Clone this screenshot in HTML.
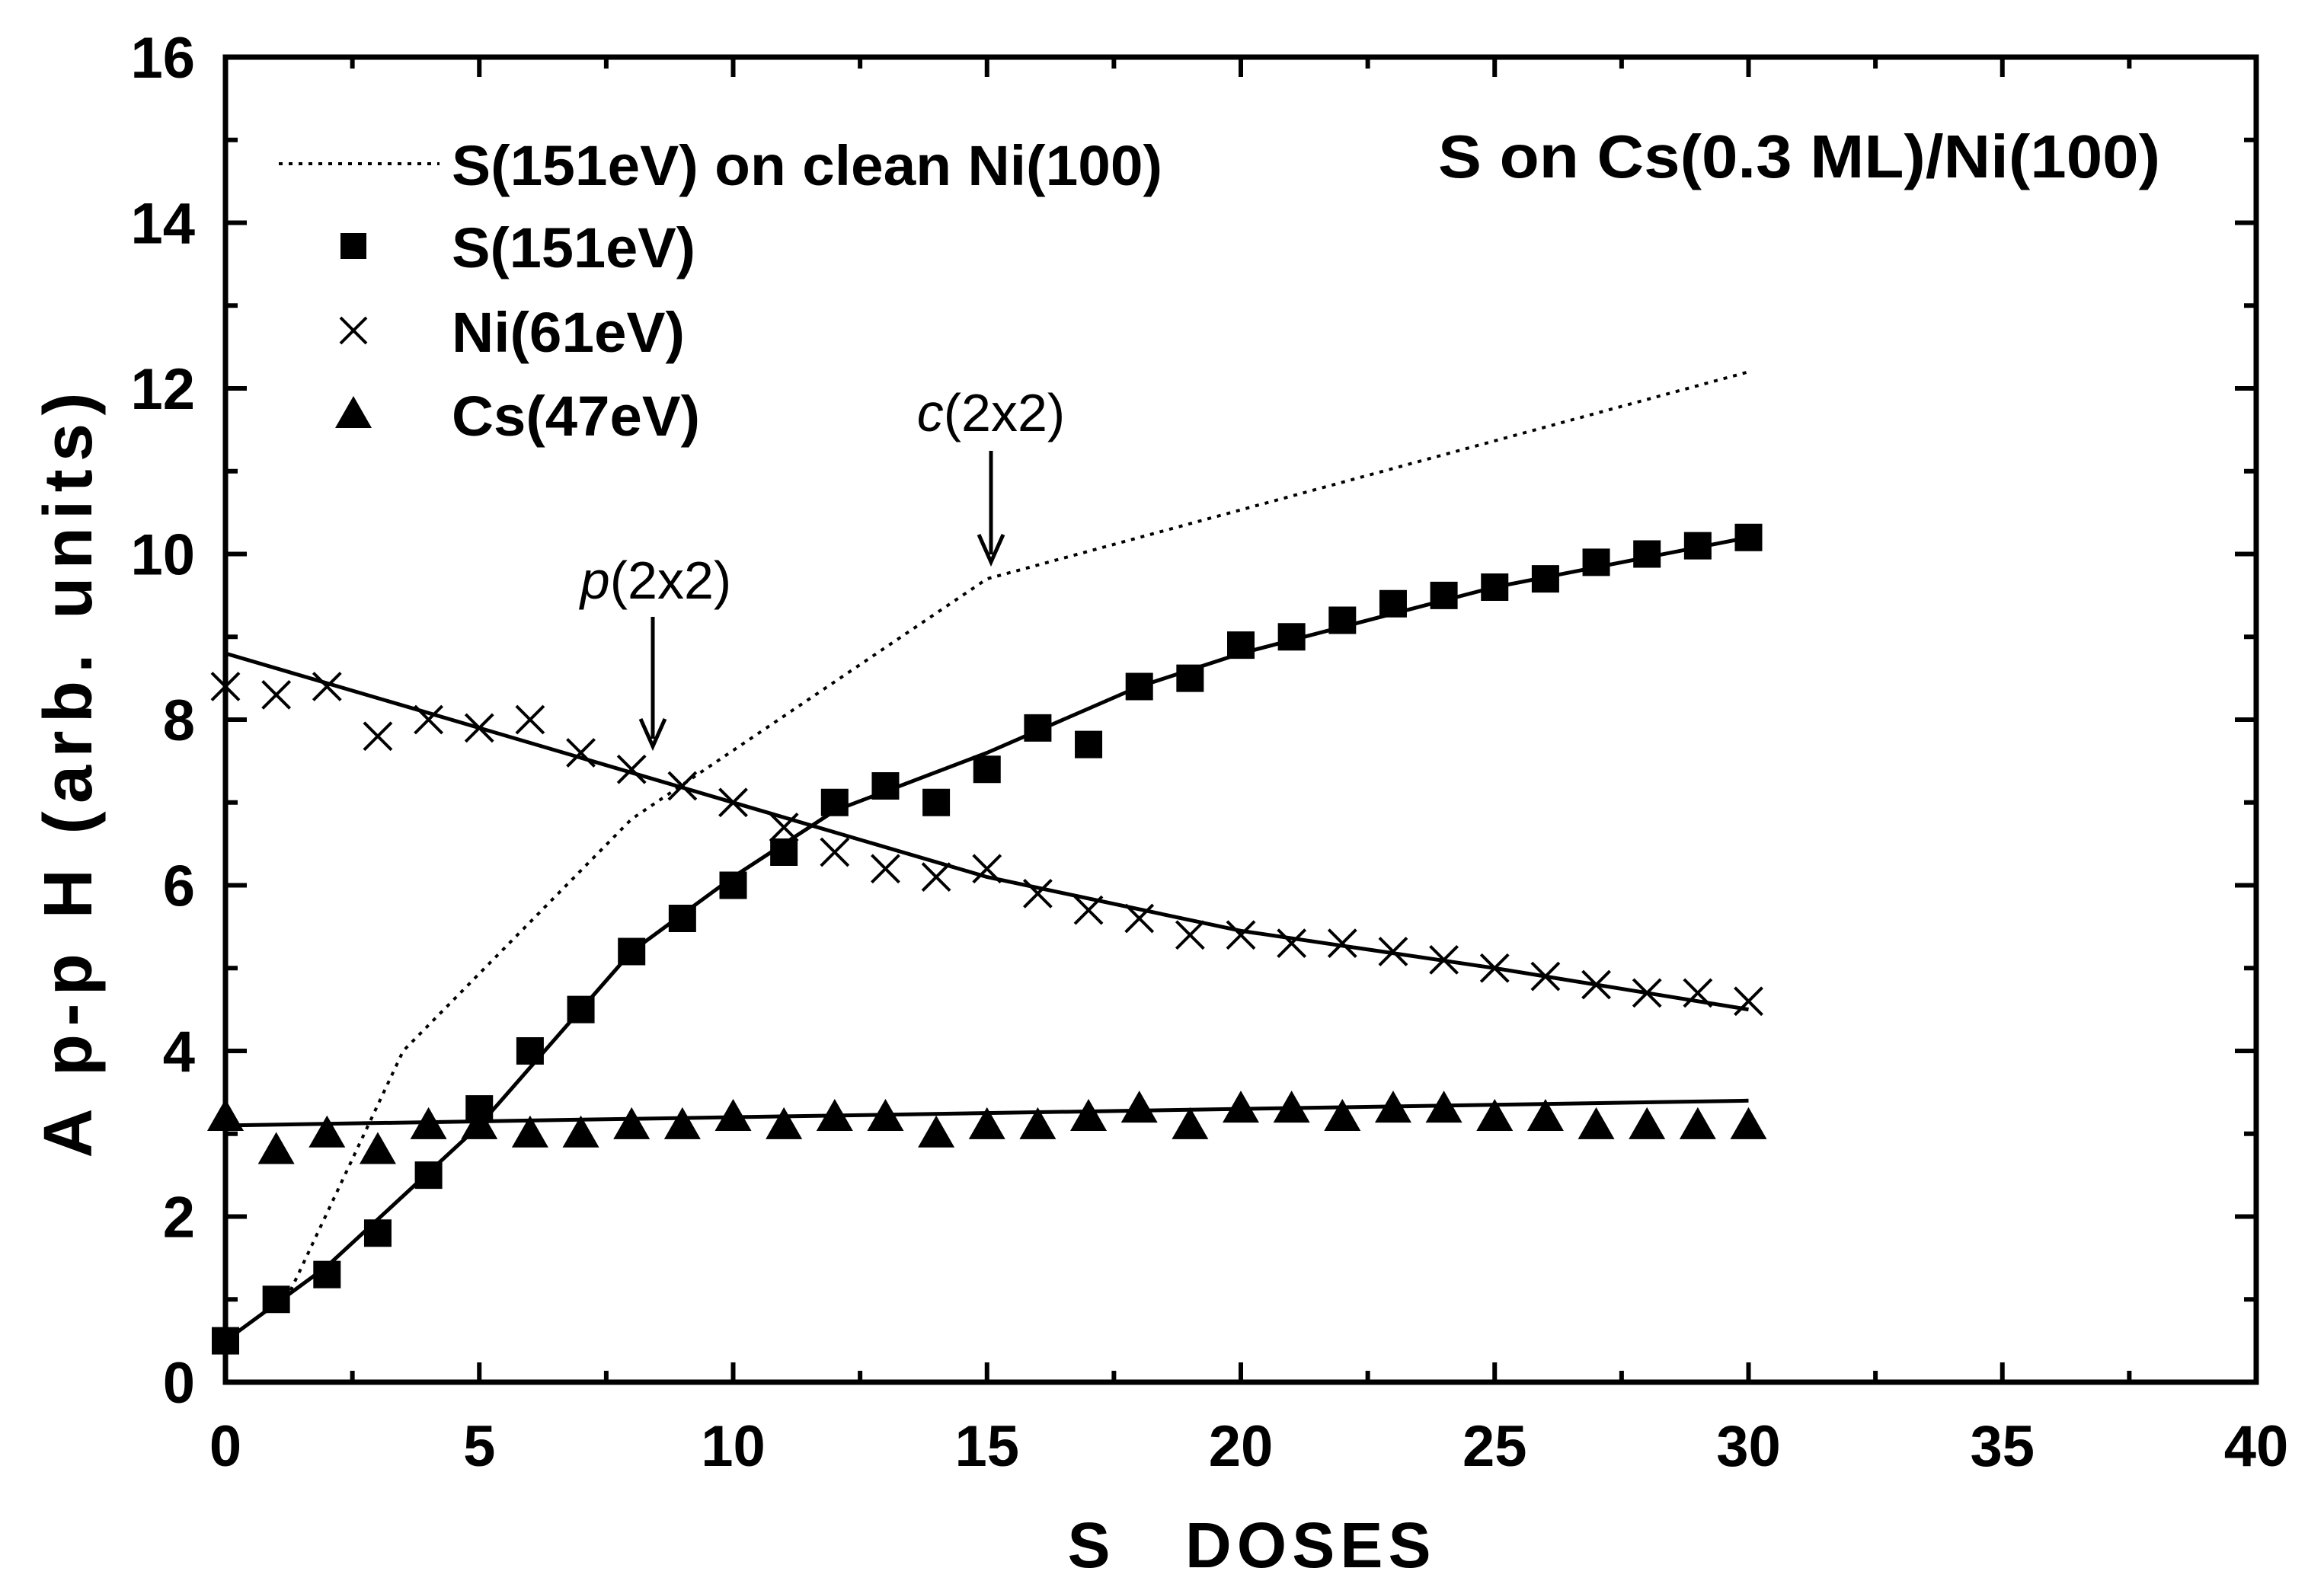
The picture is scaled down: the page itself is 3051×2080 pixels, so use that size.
<!DOCTYPE html>
<html><head><meta charset="utf-8"><style>
html,body{margin:0;padding:0;background:#fff;}
svg{display:block;font-family:"Liberation Sans",Arial,sans-serif;}
</style></head><body>
<svg id="chart" width="3051" height="2080" viewBox="0 0 3051 2080" xmlns="http://www.w3.org/2000/svg">
<g id="g"></g>
</svg>
<script>
const doses = [0,1,2,3,4,5,6,7,8,9,10,11,12,13,14,15,16,17,18,19,20,21,22,23,24,25,26,27,28,29,30];
const sVals = [0.5,1.0,1.3,1.8,2.5,3.3,4.0,4.5,5.2,5.6,6.0,6.4,7.0,7.2,7.0,7.4,7.9,7.7,8.4,8.5,8.9,9.0,9.2,9.4,9.5,9.6,9.7,9.9,10.0,10.1,10.2];
const niVals = [8.4,8.3,8.4,7.8,8.0,7.9,8.0,7.6,7.4,7.2,7.0,6.7,6.4,6.2,6.1,6.2,5.9,5.7,5.6,5.4,5.4,5.3,5.3,5.2,5.1,5.0,4.9,4.8,4.7,4.7,4.6];
const csVals = [3.2,2.8,3.0,2.8,3.1,3.1,3.0,3.0,3.1,3.1,3.2,3.1,3.2,3.2,3.0,3.1,3.1,3.2,3.3,3.1,3.3,3.3,3.2,3.3,3.3,3.2,3.2,3.1,3.1,3.1,3.1];
const sFitX = [0,2,5,8,10,12,15,18,20,25,30];
const sFitY = [0.5,1.4,3.1,5.2,6.1,6.9,7.6,8.4,8.8,9.6,10.2];
const niFitX = [0,5,10,15,20,25,30];
const niFitY = [8.8,7.9,7.0,6.1,5.45,5.0,4.5];
const csFitX = [0,30];
const csFitY = [3.1,3.4];
const cleanX = [1.2,3.5,8,15,30];
const cleanY = [1.0,4.0,6.8,9.7,12.2];
const xTicks = [0,5,10,15,20,25,30,35,40];
const yTicks = [0,2,4,6,8,10,12,14,16];

const X0=296,X1=2962,Y0=1815,Y1=75;
const sx=v=>X0+(v-0)/40*(X1-X0);
const sy=v=>Y0-(v-0)/16*(Y0-Y1);
const NS="http://www.w3.org/2000/svg";
const g=document.getElementById('g');
function el(t,a,p){const e=document.createElementNS(NS,t);for(const k in a)e.setAttribute(k,a[k]);(p||g).appendChild(e);return e;}

const fr=el('rect',{x:X0,y:Y1,width:X1-X0,height:Y0-Y1,fill:'none',stroke:'#000','stroke-width':7});



for(let v=0;v<=40;v+=2.5){const maj=v%5===0;const L=maj?26:15;
 const a=el('line',{x1:sx(v),x2:sx(v),y1:Y0,y2:Y0-L,stroke:'#000','stroke-width':6});
 
 const b=el('line',{x1:sx(v),x2:sx(v),y1:Y1,y2:Y1+L,stroke:'#000','stroke-width':6});
 }
for(let v=0;v<=16;v+=1){const maj=v%2===0;const L=maj?28:16;
 const a=el('line',{x1:X0,x2:X0+L,y1:sy(v),y2:sy(v),stroke:'#000','stroke-width':6});
 
 const b=el('line',{x1:X1,x2:X1-L,y1:sy(v),y2:sy(v),stroke:'#000','stroke-width':6});
 }
xTicks.forEach(v=>{const t=el('text',{x:sx(v),y:1925,'text-anchor':'middle','font-size':76,'font-weight':'bold'});t.textContent=v;
 });
yTicks.forEach(v=>{const t=el('text',{x:256,y:sy(v)+27,'text-anchor':'end','font-size':76,'font-weight':'bold'});t.textContent=v;
 });

const xt=el('text',{x:1640,y:2058,'text-anchor':'middle','font-size':84,'font-weight':'bold',textLength:477,lengthAdjust:'spacing'});
xt.textContent='S\u00a0\u00a0 DOSES';
const yt=el('text',{x:0,y:0,'text-anchor':'middle','font-size':90,'font-weight':'bold',textLength:1005,lengthAdjust:'spacing',transform:'translate(120,1018) rotate(-90)'});
yt.textContent='A p-p H (arb. units)';

function path(xs,ys){return xs.map((x,i)=>(i?'L':'M')+sx(x).toFixed(1)+' '+sy(ys[i]).toFixed(1)).join(' ');}
const cl=el('path',{d:path(cleanX,cleanY),fill:'none',stroke:'#000','stroke-width':4,'stroke-dasharray':'5 8'});

const f1=el('path',{d:path(sFitX,sFitY),fill:'none',stroke:'#000','stroke-width':5,'stroke-linejoin':'round'});

const f2=el('path',{d:path(niFitX,niFitY),fill:'none',stroke:'#000','stroke-width':5});

const f3=el('path',{d:path(csFitX,csFitY),fill:'none',stroke:'#000','stroke-width':5});


function square(cx,cy,s){return el('rect',{x:cx-s/2,y:cy-s/2,width:s,height:s,fill:'#000'});}
function cross(cx,cy,s){return el('path',{d:`M${cx-s} ${cy-s}L${cx+s} ${cy+s}M${cx-s} ${cy+s}L${cx+s} ${cy-s}`,stroke:'#000','stroke-width':4,fill:'none'});}
function tri(cx,cy,s){return el('path',{d:`M${cx} ${cy-s*0.6}L${cx+s*0.6} ${cy+s*0.45}L${cx-s*0.6} ${cy+s*0.45}Z`,fill:'#000'});}

doses.forEach((d,i)=>{const m=square(sx(d),sy(sVals[i]),36);});
doses.forEach((d,i)=>{const m=cross(sx(d),sy(niVals[i]),18);});
doses.forEach((d,i)=>{const m=tri(sx(d),sy(csVals[i]),40);});

const ll=el('line',{x1:366,x2:577,y1:215,y2:215,stroke:'#000','stroke-width':4,'stroke-dasharray':'5 8'});

const lsq=square(464,323,34);
const lcr=cross(464,434,17);
const ltr=tri(464,544,40);
[['S(151eV) on clean Ni(100)',243,933,'legend-entry-clean'],['S(151eV)',351,320,'legend-entry-s'],['Ni(61eV)',462,306,'legend-entry-ni'],['Cs(47eV)',572,326,'legend-entry-cs']].forEach(r=>{
 const t=el('text',{x:593,y:r[1],'font-size':74,'font-weight':'bold',textLength:r[2],lengthAdjust:'spacingAndGlyphs'});t.textContent=r[0];
 });

const ti=el('text',{x:1888,y:233,'font-size':80,'font-weight':'bold',textLength:948,lengthAdjust:'spacingAndGlyphs'});
ti.textContent='S on Cs(0.3 ML)/Ni(100)';

function annot(lbl,cx,cy,ax,ay1,ay2,name){
 const t=el('text',{x:cx,y:cy+26,'text-anchor':'middle','font-size':70});
 const i=el('tspan',{'font-style':'italic'},t);i.textContent=lbl;
 const r=el('tspan',{},t);r.textContent='(2x2)';
 
 const l=el('line',{x1:ax,x2:ax,y1:ay1,y2:ay2-10,stroke:'#000','stroke-width':5});
 
 const h=el('path',{d:`M${ax-16} ${ay2-36}L${ax} ${ay2}L${ax+16} ${ay2-36}`,fill:'none',stroke:'#000','stroke-width':5});
 
}
annot('p',861,760,857,810,980,'p2x2');
annot('c',1301,540,1301,592,738,'c2x2');
</script>
</body></html>
